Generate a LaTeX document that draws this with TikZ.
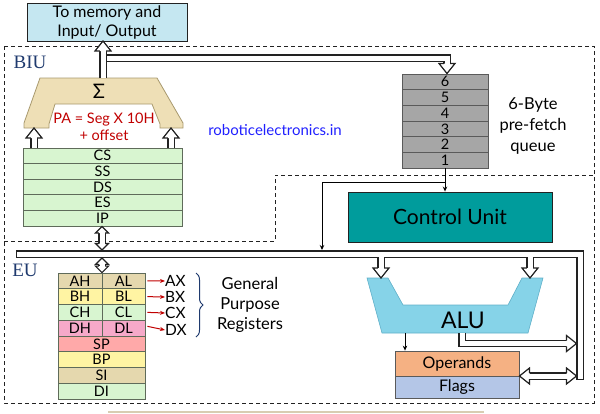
\documentclass[tikz,border=0pt]{standalone}
\usepackage{fontspec}
\setmainfont{Lato}
\newfontfamily\biufont{Liberation Serif}
\usetikzlibrary{arrows.meta,decorations.pathreplacing,calc}
\definecolor{memfill}{HTML}{C5E7F1}
\definecolor{addfill}{HTML}{EEDFB6}
\definecolor{addline}{HTML}{A8996E}
\definecolor{regg}{HTML}{D8F5D0}
\definecolor{regtan}{HTML}{E5D8AE}
\definecolor{regy}{HTML}{FFF4A3}
\definecolor{regpink}{HTML}{F6A9C9}
\definecolor{regsal}{HTML}{FFA9A9}
\definecolor{regline}{HTML}{5F6B5A}
\definecolor{qfill}{HTML}{A6A6A6}
\definecolor{qline}{HTML}{5A5A5A}
\definecolor{cufill}{HTML}{009C9C}
\definecolor{alufill}{HTML}{86D3E8}
\definecolor{aluline}{HTML}{5FAFC8}
\definecolor{opfill}{HTML}{F5B183}
\definecolor{flfill}{HTML}{B4C6E7}
\definecolor{navy}{HTML}{1F3A6E}
\definecolor{darkred}{HTML}{C00000}
\definecolor{wmark}{HTML}{2020FF}
\definecolor{buscol}{HTML}{222222}
\definecolor{tanline}{HTML}{D8CDB2}
\tikzset{
  dashsty/.style={draw=buscol, line width=1pt, dash pattern=on 4pt off 3pt},
  regbox/.style={draw=regline, line width=0.8pt, inner sep=0pt, font=\fontsize{14.5}{15}\selectfont},
  qbox/.style={draw=qline, fill=qfill, line width=0.8pt, inner sep=0pt, minimum width=86pt, minimum height=15.67pt, font=\fontsize{14.5}{15}\selectfont},
  busout/.style={line width=7.6pt, draw=buscol},
  busin/.style={line width=5pt, draw=white},
  hhead/.pic={\filldraw[fill=white, draw=buscol, line width=1.2pt, line join=miter] (-10pt,3.15pt) -- (-10pt,8pt) -- (0pt,0pt) -- (-10pt,-8pt) -- (-10pt,-3.15pt);},
  shead/.pic={\filldraw[fill=white, draw=buscol, line width=1.1pt, line join=miter] (-6.5pt,3.15pt) -- (-6.5pt,6.5pt) -- (0pt,0pt) -- (-6.5pt,-6.5pt) -- (-6.5pt,-3.15pt);},
  sigline/.style={draw=black, line width=1pt, -{Stealth[length=5pt,width=4.5pt]}},
  redarrow/.style={draw=darkred, line width=1pt, -{Stealth[length=5pt,width=4pt]}},
  lbl/.style={inner sep=0pt, font=\fontsize{15.5}{16}\selectfont},
}
\begin{document}
\begin{tikzpicture}[x=1pt,y=-1pt]
\useasboundingbox (0,0) rectangle (600,413);

% dashed unit borders
\draw[dashsty] (4,46) rectangle (594,403);
\draw[dashsty] (4,241) -- (275,241) -- (275,175) -- (594,175);
\draw[tanline, line width=1.5pt] (108,411.8) -- (484,411.8);

% labels BIU / EU
\node[text=navy, font=\biufont\fontsize{19}{20}\selectfont, inner sep=0pt] (biu) at (30,62) {BIU};
\node[text=navy, font=\biufont\fontsize{19}{20}\selectfont, inner sep=0pt] (eu) at (25,270) {EU};

% memory box
\node[draw=buscol, fill=memfill, line width=0.9pt, minimum width=160pt, minimum height=38pt, inner sep=0pt, align=center, font=\fontsize{16}{19}\selectfont] (mem) at (107,22) {To memory and\\Input/ Output};

% adder
\draw[fill=addfill, draw=addline, line width=0.8pt] (40,78) -- (157,78) -- (183,123) -- (183,128) -- (160,128) -- (160,124) -- (152,104) -- (55,104) -- (49,124) -- (49,128) -- (24,128) -- (24,123) -- cycle;
\node[inner sep=0pt, font=\fontsize{20}{20}\selectfont] (sigma) at (99,91) {Σ};
\node[inner sep=0pt, text=darkred, align=center, font=\fontsize{14.5}{17}\selectfont] (pa) at (104,127) {PA = Seg X 10H\\+ offset};

% segment registers
\node[regbox, fill=regg, minimum width=159pt, minimum height=15.6pt] (cs) at (102.5,155.8) {CS};
\node[regbox, fill=regg, minimum width=159pt, minimum height=15.6pt] (ss) at (102.5,171.4) {SS};
\node[regbox, fill=regg, minimum width=159pt, minimum height=15.6pt] (ds) at (102.5,187.0) {DS};
\node[regbox, fill=regg, minimum width=159pt, minimum height=15.6pt] (es) at (102.5,202.6) {ES};
\node[regbox, fill=regg, minimum width=159pt, minimum height=15.6pt] (ip) at (102.5,218.2) {IP};

% watermark
\node[text=wmark, inner sep=0pt, font=\fontsize{15}{15}\selectfont] (wm) at (275,130) {roboticelectronics.in};

% queue
\node[qbox] (q6) at (445,81.83) {6};
\node[qbox] (q5) at (445,97.50) {5};
\node[qbox] (q4) at (445,113.17) {4};
\node[qbox] (q3) at (445,128.83) {3};
\node[qbox] (q2) at (445,144.50) {2};
\node[qbox] (q1) at (445,160.17) {1};
\node[align=center, inner sep=0pt, font=\fontsize{16.5}{21}\selectfont] (qlbl) at (533,126) {6-Byte\\pre-fetch\\queue};

% control unit
\node[draw=buscol, fill=cufill, line width=0.9pt, minimum width=204pt, minimum height=50pt, inner sep=0pt, font=\fontsize{21}{24}\selectfont] (cu) at (450,217) {Control Unit};

% general purpose registers
\node[regbox, fill=regtan, minimum width=44pt, minimum height=15.75pt] (ah) at (80,280.875) {AH};
\node[regbox, fill=regtan, minimum width=43pt, minimum height=15.75pt] (al) at (123.5,280.875) {AL};
\node[regbox, fill=regy, minimum width=44pt, minimum height=15.75pt] (bh) at (80,296.625) {BH};
\node[regbox, fill=regy, minimum width=43pt, minimum height=15.75pt] (bl) at (123.5,296.625) {BL};
\node[regbox, fill=regg, minimum width=44pt, minimum height=15.75pt] (ch) at (80,312.375) {CH};
\node[regbox, fill=regg, minimum width=43pt, minimum height=15.75pt] (cl) at (123.5,312.375) {CL};
\node[regbox, fill=regpink, minimum width=44pt, minimum height=15.75pt] (dh) at (80,328.125) {DH};
\node[regbox, fill=regpink, minimum width=43pt, minimum height=15.75pt] (dl) at (123.5,328.125) {DL};
\node[regbox, fill=regsal, minimum width=87pt, minimum height=15.75pt] (sp) at (101.5,343.875) {SP};
\node[regbox, fill=regy, minimum width=87pt, minimum height=15.75pt] (bp) at (101.5,359.625) {BP};
\node[regbox, fill=regtan, minimum width=87pt, minimum height=15.75pt] (si) at (101.5,375.375) {SI};
\node[regbox, fill=regg, minimum width=87pt, minimum height=15.75pt] (di) at (101.5,391.125) {DI};

\node[lbl, anchor=west] (ax) at (165,281) {AX};
\node[lbl, anchor=west] (bx) at (165,297) {BX};
\node[lbl, anchor=west] (cx) at (165,313) {CX};
\node[lbl, anchor=west] (dx) at (165,330) {DX};
\draw[redarrow] (al.east) ++(2pt,0) -- (ax.west);
\draw[redarrow] (bl.east) ++(2pt,0) -- (bx.west);
\draw[redarrow] (cl.east) ++(2pt,0) -- (cx.west);
\draw[redarrow] ($(dl.east)+(2pt,1.8pt)$) -- (dx.west);
\draw[decorate, decoration={brace, amplitude=7pt}, draw=navy, line width=1pt] (196,273) -- (196,337);
\node[align=center, inner sep=0pt, font=\fontsize{16.5}{20}\selectfont] (gpr) at (250,305) {General\\Purpose\\Registers};

% ALU
\draw[fill=alufill, draw=aluline, line width=0.6pt] (367,278) -- (388,278) -- (403,305) -- (508,305) -- (522,278) -- (543,278) -- (528,333) -- (382,333) -- cycle;
\node[inner sep=0pt, font=\fontsize{23}{24}\selectfont] (alu) at (463,320) {ALU};

% operands / flags
\node[draw=qline, fill=opfill, line width=0.8pt, minimum width=124pt, minimum height=25pt, inner sep=0pt, font=\fontsize{16}{16}\selectfont] (ops) at (457,363.5) {Operands};
\node[draw=qline, fill=flfill, line width=0.8pt, minimum width=124pt, minimum height=22pt, inner sep=0pt, font=\fontsize{16}{16}\selectfont] (flags) at (457,387) {Flags};

% coordinates for buses
\coordinate (sigtop) at (103,78);
\coordinate (memin) at (103,41);
\coordinate (biuj) at (103,58);
\coordinate (biuc) at (447,58);
\coordinate (qin) at (447,73.5);
\coordinate (ain1) at (34,148);
\coordinate (aout1) at (34,128);
\coordinate (ain2) at (171,148);
\coordinate (aout2) at (171,128);
\coordinate (ipb) at (102,226.5);
\coordinate (busa) at (102,250);
\coordinate (busb) at (102,258);
\coordinate (gpt) at (102,272.6);
\coordinate (busl) at (16,254);
\coordinate (busr) at (580,254);
\coordinate (busbot) at (580,380);
\coordinate (br1) at (381,254);
\coordinate (br1t) at (381,278);
\coordinate (br2) at (530,254);
\coordinate (br2t) at (530,278);
\coordinate (aluo) at (462,333);
\coordinate (aluoc) at (462,343.5);
\coordinate (aluot) at (576.5,343.5);
\coordinate (opl) at (519.5,376);
\coordinate (opr) at (576.5,376);

% BIU bus to queue
\draw[busout, shorten >=9pt, line join=miter] (biuj) -- (biuc) -- (qin);
\draw[busin, shorten >=8pt, line join=miter] (biuj) -- (biuc) -- (qin);
\pic[rotate=-90] at (qin) {hhead};
% adder output up to memory
\draw[busout, shorten >=9pt] (sigtop) -- (memin);
\draw[busin, shorten >=8pt] (sigtop) -- (memin);
\pic[rotate=90] at (memin) {hhead};
% segment registers to adder
\draw[busout, shorten >=9pt] (ain1) -- (aout1);
\draw[busin, shorten >=8pt] (ain1) -- (aout1);
\pic[rotate=90] at (aout1) {hhead};
\draw[busout, shorten >=9pt] (ain2) -- (aout2);
\draw[busin, shorten >=8pt] (ain2) -- (aout2);
\pic[rotate=90] at (aout2) {hhead};

% main internal bus with ALU branches
\draw[busout, line join=miter] (busl) -- (busr) -- (busbot);
\draw[busout, shorten >=9pt] (br1) -- (br1t);
\draw[busout, shorten >=9pt] (br2) -- (br2t);
\draw[busin, line join=miter, shorten <=1.3pt, shorten >=1.3pt] (busl) -- (busr) -- (busbot);
\draw[busin, shorten >=8pt] (br1) -- (br1t);
\draw[busin, shorten >=8pt] (br2) -- (br2t);
\pic[rotate=-90] at (br1t) {hhead};
\pic[rotate=-90] at (br2t) {hhead};

% IP <-> bus, bus <-> GP registers
\draw[busout, shorten >=5.5pt, shorten <=5.5pt] (ipb) -- (busa);
\draw[busin, shorten >=5pt, shorten <=5pt] (ipb) -- (busa);
\pic[rotate=90] at (ipb) {shead};
\pic[rotate=-90] at (busa) {shead};
\draw[busout, shorten >=5.5pt, shorten <=5.5pt] (busb) -- (gpt);
\draw[busin, shorten >=5pt, shorten <=5pt] (busb) -- (gpt);
\pic[rotate=90] at (busb) {shead};
\pic[rotate=-90] at (gpt) {shead};
\draw[regline, line width=0.8pt] (102,273) -- (102,336);

% ALU output to bus
\draw[busout, shorten >=9pt, line join=miter] (aluo) -- (aluoc) -- (aluot);
\draw[busin, shorten >=8pt, line join=miter] (aluo) -- (aluoc) -- (aluot);
\pic at (aluot) {hhead};
% operands/flags <-> bus
\draw[busout, shorten >=9pt, shorten <=9pt] (opl) -- (opr);
\draw[busin, shorten >=8pt, shorten <=8pt] (opl) -- (opr);
\pic[rotate=180] at (opl) {hhead};
\pic at (opr) {hhead};

% thin control lines
\coordinate (qj) at (446,182);
\coordinate (cuj) at (322,182);
\coordinate (cubus) at (322,250);
\draw[sigline] (q1.south) -- (q1.south |- cu.north);
\draw[sigline] (qj) -- (cuj) -- (cubus);
\coordinate (alud) at (405,333);
\draw[sigline] (alud) -- (alud |- ops.north);
\end{tikzpicture}
\end{document}
